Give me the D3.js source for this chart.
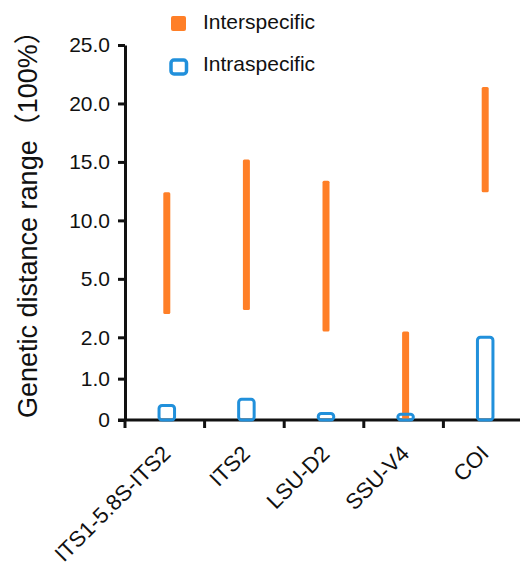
<!DOCTYPE html>
<html>
<head>
<meta charset="utf-8">
<script src="https://cdn.jsdelivr.net/npm/d3@7"></script>
<style>
    body { margin: 0; background: #fff; }
    svg { display: block; font-family: "Liberation Sans", Arial, "Noto Sans CJK SC", sans-serif; }
</style>
</head>
<body>
<svg id="chart" width="520" height="569"></svg>
<script>
// chart data
var categories = ['ITS1-5.8S-ITS2', 'ITS2', 'LSU-D2', 'SSU-V4', 'COI'];
var interMin = [3.2, 3.4, 2.3, 0, 12.4];
var interMax = [12.4, 15.2, 13.4, 2.3, 21.4];
var intraMin = [0, 0, 0, 0, 0];
var intraMax = [0.35, 0.5, 0.16, 0.14, 2.0];
var yTicks = [0, 1, 2, 5, 10, 15, 20, 25];
var seriesNames = ['Interspecific', 'Intraspecific'];
var yTitle = 'Genetic distance range（100%）';

var orange = '#ff7f27';
var blue = '#2190db';
var ink = '#111';

var svg = d3.select('#chart');
var x0 = 125, x1 = 523, yBase = 420;

// segmented y axis: 0-2 tight steps, 2-25 even steps per tick
var lowStep = 41.35, highStep = 58.46;
var y = d3.scaleLinear()
    .domain(yTicks)
    .range(yTicks.map(function (d, i) {
        return i <= 2 ? yBase - i * lowStep : yBase - 2 * lowStep - (i - 2) * highStep;
    }));

var x = d3.scaleBand()
    .domain(categories)
    .range([x0, x1])
    .padding(0);

function cx(c) {
    return x(c) + x.bandwidth() / 2 + 2;
}

// y axis
var yAxis = svg.append('g')
    .attr('transform', 'translate(' + x0 + ',0)')
    .call(d3.axisLeft(y)
        .tickValues(yTicks)
        .tickSize(7)
        .tickSizeOuter(0)
        .tickPadding(8)
        .tickFormat(function (d) { return d === 0 ? '0' : d3.format('.1f')(d); }));
yAxis.select('.domain').attr('stroke', ink).attr('stroke-width', 3);
yAxis.selectAll('.tick line').attr('stroke', ink).attr('stroke-width', 3);
yAxis.selectAll('.tick text')
    .attr('fill', ink)
    .attr('font-size', 21)
    .attr('font-family', null);

// x axis line and ticks at band edges
svg.append('line')
    .attr('x1', x0 - 7).attr('x2', 520)
    .attr('y1', yBase).attr('y2', yBase)
    .attr('stroke', ink).attr('stroke-width', 3);

svg.selectAll('.xtick')
    .data(categories)
    .enter().append('line')
    .attr('class', 'xtick')
    .attr('x1', function (d) { return x(d); })
    .attr('x2', function (d) { return x(d); })
    .attr('y1', yBase)
    .attr('y2', yBase + 8)
    .attr('stroke', ink).attr('stroke-width', 3);

svg.selectAll('.xlabel')
    .data(categories)
    .enter().append('text')
    .attr('class', 'xlabel')
    .attr('transform', function (d) {
        return 'translate(' + (cx(d) + 5) + ',' + (yBase + 35) + ') rotate(-45)';
    })
    .attr('text-anchor', 'end')
    .attr('font-size', 22)
    .attr('fill', ink)
    .text(function (d) { return d; });

// interspecific range bars
svg.selectAll('.inter')
    .data(categories)
    .enter().append('rect')
    .attr('class', 'inter')
    .attr('x', function (d) { return cx(d) - 3.5; })
    .attr('width', 7)
    .attr('y', function (d, i) { return y(interMax[i]); })
    .attr('height', function (d, i) { return y(interMin[i]) - y(interMax[i]); })
    .attr('rx', 1.5)
    .attr('fill', orange);

// intraspecific range boxes
svg.selectAll('.intra')
    .data(categories)
    .enter().append('rect')
    .attr('class', 'intra')
    .attr('x', function (d) { return cx(d) - 7.75; })
    .attr('width', 15.5)
    .attr('y', function (d, i) { return y(intraMax[i]); })
    .attr('height', function (d, i) { return y(intraMin[i]) - y(intraMax[i]); })
    .attr('rx', 3)
    .attr('fill', 'none')
    .attr('stroke', blue)
    .attr('stroke-width', 3);

// y title
svg.append('text')
    .attr('transform', 'translate(36.5,418) rotate(-90)')
    .attr('text-anchor', 'start')
    .attr('font-size', 27)
    .attr('fill', ink)
    .text(yTitle);

// legend
var legend = svg.append('g');
legend.append('rect')
    .attr('x', 171).attr('y', 16)
    .attr('width', 15).attr('height', 15)
    .attr('rx', 2)
    .attr('fill', orange);
legend.append('rect')
    .attr('x', 171).attr('y', 60)
    .attr('width', 15.5).attr('height', 14)
    .attr('rx', 3)
    .attr('fill', 'none')
    .attr('stroke', blue)
    .attr('stroke-width', 3.5);
legend.selectAll('text')
    .data(seriesNames)
    .enter().append('text')
    .attr('x', 203)
    .attr('y', function (d, i) { return 29 + i * 41.7; })
    .attr('font-size', 21)
    .attr('fill', ink)
    .text(function (d) { return d; });
</script>
</body>
</html>
